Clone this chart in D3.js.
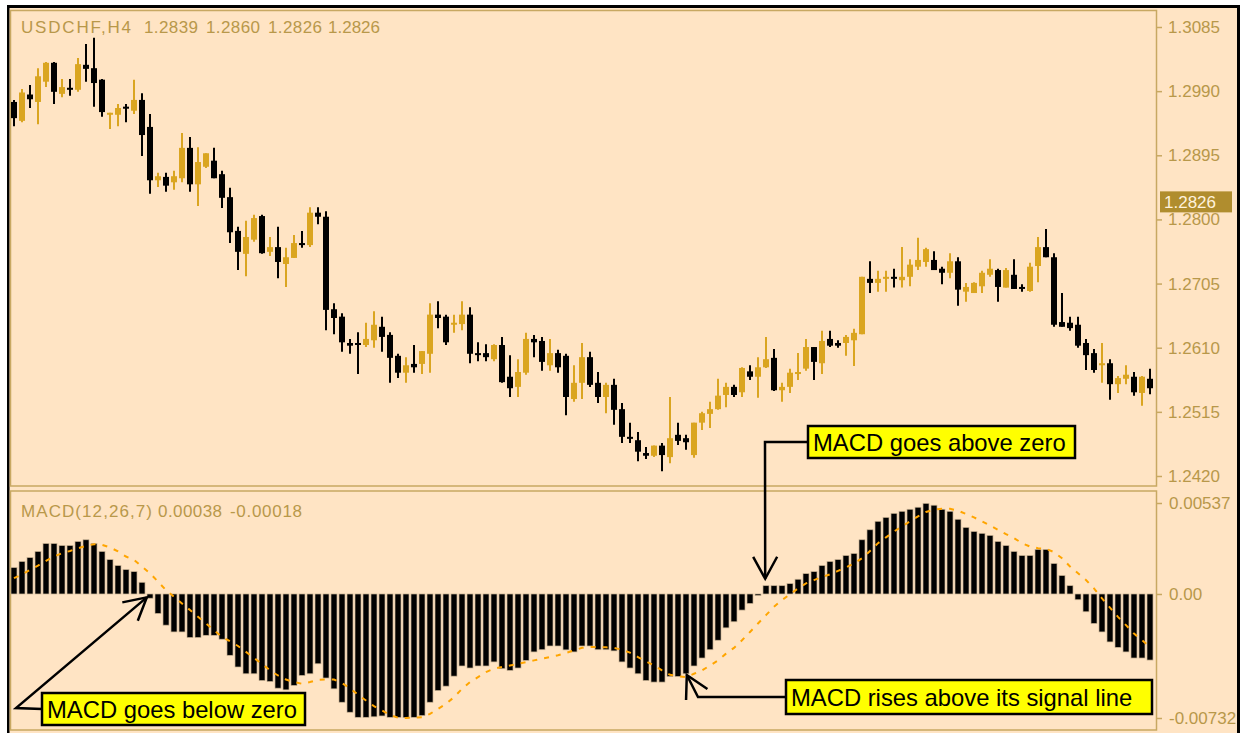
<!doctype html>
<html lang="en">
<head>
<meta charset="UTF-8">
<title>USDCHF H4 with MACD</title>
<script src="https://cdn.jsdelivr.net/npm/d3@7"></script>
<style>
  body { margin: 0; background: #fff; }
  svg { display: block; }
  .gold-text { font-family: "Liberation Sans", Arial, sans-serif; font-size: 17px; fill: #b8984a; }
  .note { font-family: "Liberation Sans", Arial, sans-serif; font-size: 23.8px; fill: #000; }
</style>
</head>
<body>
<div id="chart"></div>
<script>
// candles (H4 bars)
const open = [
  1.2974,1.2946,1.2985,1.2974,1.3004,1.3032,1.2986,1.2995,1.2992,1.3029,
  1.3024,1.3007,1.2955,1.2955,1.2967,1.2961,1.2977,1.2937,1.2858,1.2863,
  1.2855,1.2861,1.2906,1.2852,1.2878,1.2887,1.2867,1.2833,1.2783,1.2749,
  1.2770,1.2805,1.2752,1.2759,1.2734,1.2743,1.2765,1.2762,1.2810,1.2804,
  1.2667,1.2656,1.2617,1.2617,1.2614,1.2621,1.2641,1.2629,1.2598,1.2573,
  1.2586,1.2586,1.2601,1.2659,1.2656,1.2645,1.2645,1.2659,1.2602,1.2602,
  1.2593,1.2614,1.2567,1.2552,1.2573,1.2623,1.2620,1.2584,1.2602,1.2598,
  1.2534,1.2558,1.2596,1.2558,1.2537,1.2555,1.2519,1.2478,1.2473,1.2454,
  1.2450,1.2465,1.2448,1.2481,1.2476,1.2451,1.2499,1.2512,1.2519,1.2540,
  1.2552,1.2544,1.2575,1.2567,1.2581,1.2595,1.2547,1.2552,1.2571,1.2579,
  1.2611,1.2587,1.2623,1.2617,1.2617,1.2621,1.2630,1.2712,1.2706,1.2712,
  1.2715,1.2710,1.2715,1.2730,1.2737,1.2740,1.2727,1.2721,1.2738,1.2693,
  1.2691,1.2701,1.2718,1.2725,1.2699,1.2718,1.2700,1.2694,1.2731,1.2759,
  1.2744,1.2648,1.2647,1.2644,1.2617,1.2602,1.2584,1.2587,1.2556,1.2564,
  1.2567,1.2543,1.2564
];
const high = [
  1.2977,1.2993,1.2999,1.3024,1.3033,1.3033,1.3008,1.3008,1.3039,1.3060,
  1.3069,1.3008,1.2958,1.2971,1.2971,1.3007,1.2987,1.2956,1.2869,1.2869,
  1.2872,1.2928,1.2922,1.2907,1.2898,1.2906,1.2872,1.2847,1.2789,1.2798,
  1.2807,1.2807,1.2774,1.2789,1.2758,1.2777,1.2783,1.2818,1.2818,1.2812,
  1.2676,1.2661,1.2623,1.2633,1.2647,1.2664,1.2656,1.2633,1.2601,1.2596,
  1.2614,1.2605,1.2676,1.2679,1.2659,1.2659,1.2679,1.2670,1.2618,1.2615,
  1.2615,1.2626,1.2599,1.2593,1.2632,1.2629,1.2626,1.2623,1.2607,1.2601,
  1.2584,1.2617,1.2604,1.2574,1.2558,1.2564,1.2528,1.2499,1.2485,1.2463,
  1.2465,1.2469,1.2537,1.2499,1.2481,1.2499,1.2515,1.2530,1.2564,1.2558,
  1.2555,1.2581,1.2584,1.2596,1.2626,1.2608,1.2558,1.2579,1.2602,1.2623,
  1.2611,1.2635,1.2635,1.2621,1.2629,1.2638,1.2715,1.2738,1.2724,1.2724,
  1.2727,1.2759,1.2741,1.2773,1.2758,1.2753,1.2730,1.2750,1.2744,1.2706,
  1.2707,1.2724,1.2741,1.2727,1.2728,1.2741,1.2704,1.2736,1.2774,1.2786,
  1.2750,1.2691,1.2656,1.2656,1.2623,1.2608,1.2617,1.2593,1.2568,1.2584,
  1.2574,1.2568,1.2579
];
const low = [
  1.2938,1.2944,1.2965,1.2941,1.2996,1.2971,1.2981,1.2983,1.2989,1.3004,
  1.2967,1.2952,1.2934,1.2938,1.2944,1.2956,1.2894,1.2838,1.2848,1.2841,
  1.2844,1.2855,1.2841,1.2820,1.2876,1.2861,1.2817,1.2765,1.2725,1.2716,
  1.2767,1.2749,1.2746,1.2713,1.2700,1.2743,1.2758,1.2759,1.2793,1.2636,
  1.2630,1.2604,1.2601,1.2571,1.2611,1.2610,1.2604,1.2558,1.2565,1.2558,
  1.2573,1.2571,1.2573,1.2639,1.2614,1.2632,1.2636,1.2587,1.2590,1.2590,
  1.2590,1.2558,1.2537,1.2537,1.2570,1.2596,1.2576,1.2576,1.2573,1.2510,
  1.2530,1.2534,1.2552,1.2528,1.2513,1.2496,1.2469,1.2469,1.2442,1.2445,
  1.2448,1.2427,1.2439,1.2466,1.2459,1.2447,1.2488,1.2491,1.2518,1.2522,
  1.2537,1.2537,1.2562,1.2536,1.2580,1.2546,1.2530,1.2543,1.2562,1.2576,
  1.2562,1.2571,1.2611,1.2610,1.2598,1.2583,1.2630,1.2691,1.2693,1.2693,
  1.2699,1.2699,1.2701,1.2725,1.2730,1.2725,1.2704,1.2713,1.2672,1.2678,
  1.2691,1.2691,1.2715,1.2678,1.2699,1.2697,1.2693,1.2693,1.2707,1.2744,
  1.2641,1.2641,1.2635,1.2610,1.2577,1.2573,1.2558,1.2533,1.2543,1.2556,
  1.2539,1.2524,1.2541
];
const close = [
  1.2950,1.2988,1.2978,1.3012,1.3032,1.2989,1.2996,1.2992,1.3030,1.3023,
  1.3002,1.2959,1.2958,1.2965,1.2964,1.2977,1.2925,1.2858,1.2864,1.2850,
  1.2864,1.2906,1.2852,1.2885,1.2898,1.2861,1.2832,1.2781,1.2752,1.2774,
  1.2802,1.2750,1.2759,1.2737,1.2744,1.2765,1.2762,1.2810,1.2804,1.2666,
  1.2654,1.2618,1.2613,1.2616,1.2623,1.2644,1.2626,1.2595,1.2573,1.2584,
  1.2581,1.2605,1.2659,1.2654,1.2618,1.2647,1.2659,1.2601,1.2599,1.2596,
  1.2614,1.2559,1.2550,1.2574,1.2623,1.2618,1.2589,1.2602,1.2581,1.2537,
  1.2558,1.2596,1.2555,1.2537,1.2555,1.2518,1.2478,1.2475,1.2456,1.2450,
  1.2465,1.2451,1.2476,1.2472,1.2470,1.2499,1.2513,1.2519,1.2539,1.2552,
  1.2540,1.2580,1.2567,1.2581,1.2593,1.2547,1.2552,1.2573,1.2574,1.2611,
  1.2589,1.2620,1.2613,1.2613,1.2626,1.2632,1.2715,1.2706,1.2712,1.2715,
  1.2712,1.2715,1.2733,1.2740,1.2756,1.2725,1.2721,1.2738,1.2696,1.2700,
  1.2706,1.2721,1.2727,1.2700,1.2725,1.2697,1.2699,1.2730,1.2759,1.2744,
  1.2644,1.2641,1.2639,1.2613,1.2599,1.2577,1.2587,1.2556,1.2565,1.2570,
  1.2544,1.2567,1.2550
];

// MACD histogram and its signal line
const macd = [
  0.00156,0.00192,0.00215,0.00251,0.00298,0.00298,0.00286,0.00286,0.00310,0.00320,
  0.00298,0.00251,0.00203,0.00168,0.00144,0.00132,0.00069,-0.00025,-0.00115,-0.00184,
  -0.00224,-0.00224,-0.00257,-0.00257,-0.00244,-0.00244,-0.00267,-0.00362,-0.00431,-0.00471,
  -0.00471,-0.00511,-0.00517,-0.00556,-0.00566,-0.00540,-0.00481,-0.00471,-0.00412,-0.00496,
  -0.00560,-0.00639,-0.00698,-0.00728,-0.00728,-0.00725,-0.00720,-0.00728,-0.00728,-0.00730,
  -0.00728,-0.00718,-0.00639,-0.00570,-0.00544,-0.00485,-0.00425,-0.00437,-0.00425,-0.00425,
  -0.00401,-0.00441,-0.00451,-0.00437,-0.00392,-0.00342,-0.00329,-0.00307,-0.00307,-0.00330,
  -0.00342,-0.00307,-0.00307,-0.00329,-0.00329,-0.00336,-0.00401,-0.00437,-0.00471,-0.00511,
  -0.00520,-0.00520,-0.00487,-0.00487,-0.00471,-0.00425,-0.00378,-0.00329,-0.00273,-0.00200,
  -0.00164,-0.00095,-0.00056,-0.00005,0.00049,0.00049,0.00049,0.00061,0.00087,0.00120,
  0.00132,0.00168,0.00192,0.00203,0.00227,0.00239,0.00320,0.00379,0.00429,0.00452,
  0.00476,0.00488,0.00500,0.00512,0.00535,0.00524,0.00500,0.00488,0.00441,0.00393,
  0.00369,0.00358,0.00346,0.00310,0.00286,0.00251,0.00227,0.00227,0.00263,0.00263,
  0.00180,0.00109,0.00049,-0.00034,-0.00105,-0.00174,-0.00224,-0.00283,-0.00315,-0.00342,
  -0.00378,-0.00378,-0.00390
];
const signal = [
  0.00093,0.00116,0.00142,0.00168,0.00195,0.00221,0.00241,0.00254,0.00270,0.00284,
  0.00294,0.00290,0.00275,0.00251,0.00221,0.00201,0.00162,0.00122,0.00073,0.00023,
  -0.00016,-0.00056,-0.00095,-0.00135,-0.00174,-0.00214,-0.00253,-0.00279,-0.00307,-0.00342,
  -0.00378,-0.00412,-0.00451,-0.00481,-0.00505,-0.00520,-0.00530,-0.00520,-0.00506,-0.00505,
  -0.00505,-0.00526,-0.00556,-0.00595,-0.00629,-0.00662,-0.00688,-0.00714,-0.00730,-0.00732,
  -0.00730,-0.00728,-0.00708,-0.00678,-0.00649,-0.00609,-0.00560,-0.00520,-0.00491,-0.00461,
  -0.00441,-0.00431,-0.00422,-0.00412,-0.00402,-0.00392,-0.00382,-0.00372,-0.00362,-0.00348,
  -0.00333,-0.00318,-0.00313,-0.00313,-0.00315,-0.00318,-0.00329,-0.00346,-0.00372,-0.00398,
  -0.00422,-0.00451,-0.00477,-0.00485,-0.00491,-0.00471,-0.00451,-0.00422,-0.00392,-0.00352,
  -0.00318,-0.00273,-0.00224,-0.00174,-0.00125,-0.00075,-0.00036,-0.00002,0.00033,0.00063,
  0.00082,0.00100,0.00116,0.00136,0.00156,0.00181,0.00211,0.00254,0.00300,0.00334,
  0.00369,0.00399,0.00429,0.00458,0.00484,0.00498,0.00503,0.00503,0.00492,0.00472,
  0.00452,0.00429,0.00405,0.00379,0.00353,0.00330,0.00300,0.00280,0.00270,0.00266,
  0.00247,0.00211,0.00162,0.00122,0.00082,0.00033,-0.00026,-0.00081,-0.00135,-0.00184,
  -0.00234,-0.00273,-0.00313
];

const priceTicks = [1.3085, 1.2990, 1.2895, 1.2800, 1.2705, 1.2610, 1.2515, 1.2420];
const macdTicks = [0.00537, 0, -0.00732];
const macdTickLabels = ["0.00537", "0.00", "-0.00732"];
const lastPrice = 1.2826;
const headerItems = ["USDCHF,H4", "1.2839", "1.2860", "1.2826", "1.2826"];
const macdHeaderItems = ["MACD(12,26,7)", "0.00038", "-0.00018"];

// annotation: label text, arrow tip as [bar index, macd value]
const notes = [
  { text: "MACD goes below zero", tip: [16.6, -0.0002] },
  { text: "MACD goes above zero", tip: [93.9, 0.0009] },
  { text: "MACD rises above its signal line", tip: [84.1, -0.00478] }
];

const width = 1243, height = 733;
const gold = "#daa520";
const frameColor = "#c8a862";
const n = open.length;

const svg = d3.select("#chart").append("svg")
  .attr("width", width)
  .attr("height", height);

// outer window frame
svg.append("rect").attr("x", 7).attr("y", 5).attr("width", 1233).attr("height", 740).attr("fill", "#000");
svg.append("rect").attr("x", 9.5).attr("y", 8).attr("width", 1227.5).attr("height", 740).attr("fill", "#ffe4c4");

// panel frames
svg.append("rect").attr("x", 10.5).attr("y", 10.5).attr("width", 1146).attr("height", 475.5)
  .attr("fill", "none").attr("stroke", frameColor).attr("stroke-width", 1.5);
svg.append("rect").attr("x", 10.5).attr("y", 491).attr("width", 1146).attr("height", 239)
  .attr("fill", "none").attr("stroke", frameColor).attr("stroke-width", 1.5);

const x = d3.scaleLinear().domain([0, n - 1]).range([14, 1150]);
const y = d3.scaleLinear().domain([1.2420, 1.3085]).range([476, 27]);
const ym = d3.scaleLinear().domain([-0.00732, 0.00537]).range([718, 503]);

// price axis
const priceAxis = svg.append("g")
  .attr("transform", "translate(1157,0)")
  .call(d3.axisRight(y).tickValues(priceTicks).tickFormat(d3.format(".4f")).tickSize(5).tickPadding(6));
priceAxis.select(".domain").remove();
priceAxis.selectAll(".tick line").attr("stroke", frameColor).attr("stroke-width", 1.5);
priceAxis.selectAll(".tick text").attr("class", "gold-text").attr("fill", null);
priceAxis.attr("font-size", null).attr("font-family", null);

// last price tag
svg.append("rect")
  .attr("x", 1160).attr("y", y(lastPrice) - 10.5)
  .attr("width", 72).attr("height", 21)
  .attr("fill", "#b08d2e");
svg.append("text")
  .attr("class", "gold-text")
  .attr("x", 1164).attr("y", y(lastPrice)).attr("dy", "0.35em")
  .style("fill", "#fff2dc")
  .text(lastPrice.toFixed(4));

// MACD axis
const macdAxis = svg.append("g")
  .attr("transform", "translate(1157,0)")
  .call(d3.axisRight(ym).tickValues(macdTicks).tickFormat((d, i) => macdTickLabels[i]).tickSize(5).tickPadding(7));
macdAxis.select(".domain").remove();
macdAxis.selectAll(".tick line").attr("stroke", frameColor).attr("stroke-width", 1.5);
macdAxis.selectAll(".tick text").attr("class", "gold-text").attr("fill", null);
macdAxis.attr("font-size", null).attr("font-family", null);

// header texts
const headerX = [21, 144, 206, 268, 328];
const headerW = [110, 54, 54, 54, 52];
svg.selectAll("text.hdr").data(headerItems).enter().append("text")
  .attr("class", "gold-text hdr")
  .attr("x", (d, i) => headerX[i]).attr("y", 33)
  .attr("textLength", (d, i) => headerW[i]).attr("lengthAdjust", "spacing")
  .text(d => d);

const macdHeaderX = [21, 158, 230];
const macdHeaderW = [131, 64, 72];
svg.selectAll("text.mhdr").data(macdHeaderItems).enter().append("text")
  .attr("class", "gold-text mhdr")
  .attr("x", (d, i) => macdHeaderX[i]).attr("y", 517)
  .attr("textLength", (d, i) => macdHeaderW[i]).attr("lengthAdjust", "spacing")
  .text(d => d);

// candles
const idx = d3.range(n);
const isUp = i => close[i] > open[i];
const candles = svg.append("g");
candles.selectAll("line").data(idx).enter().append("line")
  .attr("x1", i => x(i)).attr("x2", i => x(i))
  .attr("y1", i => y(high[i])).attr("y2", i => y(low[i]))
  .attr("stroke", i => isUp(i) ? gold : "#000")
  .attr("stroke-width", 2);
candles.selectAll("rect").data(idx).enter().append("rect")
  .attr("x", i => x(i) - 3)
  .attr("y", i => y(Math.max(open[i], close[i])))
  .attr("width", 6)
  .attr("height", i => Math.max(2, Math.abs(y(open[i]) - y(close[i]))))
  .attr("fill", i => isUp(i) ? gold : "#000");

// MACD histogram
svg.append("g").selectAll("rect").data(idx).enter().append("rect")
  .attr("x", i => x(i) - 3)
  .attr("y", i => Math.min(ym(macd[i]), ym(0)))
  .attr("width", 6)
  .attr("height", i => Math.max(1.5, Math.abs(ym(macd[i]) - ym(0))))
  .attr("fill", "#000")
  .attr("stroke", "#c9b394")
  .attr("stroke-width", 0.7);

// signal line
svg.append("path")
  .datum(idx)
  .attr("fill", "none")
  .attr("stroke", "#ffa500")
  .attr("stroke-width", 2)
  .attr("stroke-dasharray", "5,7")
  .attr("d", d3.line().x(i => x(i)).y(i => ym(signal[i])));

// annotation boxes and arrows
const boxes = [
  { x: 42, y: 693, w: 263, h: 32, elbow: [16, 708] },
  { x: 808, y: 426, w: 267, h: 32, elbow: [765, 442] },
  { x: 786, y: 680, w: 366, h: 34, elbow: [698, 697] }
];

function arrowHead(tail, tip, len, ang) {
  const a = Math.atan2(tail[1] - tip[1], tail[0] - tip[0]);
  return [a - ang, a + ang].map(t => [tip[0] + len * Math.cos(t), tip[1] + len * Math.sin(t)]);
}

notes.forEach((note, k) => {
  const b = boxes[k];
  const tip = [x(note.tip[0]), ym(note.tip[1])];
  const start = [b.x, b.y + b.h / 2];
  const arms = arrowHead(b.elbow, tip, 25, 0.5);
  const g = svg.append("g").attr("fill", "none").attr("stroke", "#000").attr("stroke-width", 2.5);
  g.append("path").attr("d", d3.line()([start, b.elbow, tip]));
  g.append("path").attr("d", d3.line()([arms[0], tip, arms[1]]));
  svg.append("rect")
    .attr("x", b.x).attr("y", b.y).attr("width", b.w).attr("height", b.h)
    .attr("fill", "#ffff00").attr("stroke", "#000").attr("stroke-width", 2.5);
  svg.append("text")
    .attr("class", "note")
    .attr("x", b.x + 5).attr("y", b.y + b.h / 2).attr("dy", "0.36em")
    .text(note.text);
});
</script>
</body>
</html>
